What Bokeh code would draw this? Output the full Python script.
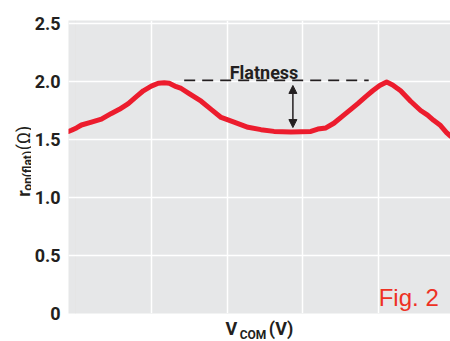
import math
from bokeh.plotting import figure
from bokeh.models import (Label, Arrow, NormalHead, FixedTicker, Range1d, Grid,
                          LinearAxis)
from bokeh.layouts import row
from bokeh.embed import file_html
from bokeh.resources import INLINE
from bokeh.core.properties import value

# ---- data ----
vcom = [-0.092, -0.053, 0.013, 0.079, 0.211, 0.342, 0.474, 0.579, 0.697, 0.803,
        0.895, 1.0, 1.092, 1.171, 1.237, 1.329, 1.395, 1.5, 1.658, 1.789,
        1.921, 2.092, 2.276, 2.447, 2.618, 2.842, 3.105, 3.197, 3.303, 3.408,
        3.539, 3.632, 3.724, 3.829, 3.921, 4.013, 4.105, 4.184, 4.289, 4.421,
        4.553, 4.645, 4.724, 4.816, 4.895, 4.947]
ron_flat = [1.57, 1.58, 1.60, 1.625, 1.65, 1.675, 1.725, 1.76, 1.81, 1.87,
            1.92, 1.96, 1.985, 1.99, 1.985, 1.955, 1.94, 1.895, 1.83, 1.76,
            1.69, 1.65, 1.605, 1.585, 1.57, 1.565, 1.57, 1.59, 1.60, 1.64,
            1.71, 1.76, 1.81, 1.87, 1.92, 1.965, 1.995, 1.97, 1.92, 1.83,
            1.75, 1.71, 1.665, 1.62, 1.56, 1.53]
y_ticks = [0, 0.5, 1.0, 1.5, 2.0, 2.5]
y_tick_labels = ["0", "0.5", "1.0", "1.5", "2.0", "2.5"]
x_grid = [1, 2, 3, 4]
x_title = "V" + "\u00a0" * 7 + "(V)"
x_title_sub = "COM"
x_title_sub_pos = 2.342
flat_line_x = [1.434, 3.868]
flat_line_y = 2.01
arrow_x = 2.868
arrow_y = [1.966, 1.603]

FONT = "Roboto"
DARK = "#231f20"
RED = "#ec1c2d"

# ---------------- main plot ----------------
p = figure(width=419, height=341, output_backend="svg", toolbar_location=None,
           x_range=Range1d(-0.092, 4.947), y_range=Range1d(0, 2.526),
           x_axis_location=None,
           min_border_left=36, min_border_right=0, min_border_top=20,
           min_border_bottom=28)
p.outline_line_color = None
p.background_fill_color = "#e6e7e8"
p.border_fill_color = "white"

p.add_layout(Grid(dimension=0, ticker=FixedTicker(ticks=x_grid),
                  grid_line_color="white", grid_line_width=1.5))
p.ygrid.ticker = FixedTicker(ticks=y_ticks)
p.ygrid.grid_line_color = "white"
p.ygrid.grid_line_width = 1.5

ya = p.yaxis[0]
ya.ticker = FixedTicker(ticks=y_ticks)
ya.major_label_overrides = {t: l for t, l in zip(y_ticks, y_tick_labels)}
ya.axis_line_color = None
ya.major_tick_line_color = None
ya.minor_tick_line_color = None
ya.major_tick_out = 0
ya.major_tick_in = 0
ya.minor_tick_out = 0
ya.minor_tick_in = 0
ya.major_label_standoff = 8
ya.major_label_text_font = FONT
ya.major_label_text_font_style = "bold"
ya.major_label_text_font_size = "18px"
ya.major_label_text_color = DARK

# x axis title "V_COM (V)": subscript as a tick label, main text as axis label
xa = LinearAxis(ticker=FixedTicker(ticks=[x_title_sub_pos]),
                major_label_overrides={x_title_sub_pos: x_title_sub},
                axis_line_color=None, major_tick_line_color=None,
                minor_tick_line_color=None, major_tick_out=0, major_tick_in=0,
                minor_tick_out=0, minor_tick_in=0, major_label_standoff=14,
                major_label_text_font=FONT, major_label_text_font_style="bold",
                major_label_text_font_size="12px", major_label_text_color=DARK,
                axis_label=x_title, axis_label_text_font=FONT,
                axis_label_text_font_style="bold",
                axis_label_text_font_size="18px",
                axis_label_text_color=DARK, axis_label_standoff=-27)
p.add_layout(xa, "below")

p.line(vcom, ron_flat, line_color=RED, line_width=5, line_join="round",
       line_cap="round")

p.line(flat_line_x, [flat_line_y, flat_line_y], line_color=DARK, line_width=1.6,
       line_dash="11 7")
p.add_layout(Arrow(x_start=arrow_x, y_start=arrow_y[0], x_end=arrow_x,
                   y_end=arrow_y[1], line_color=DARK, line_width=1.5,
                   start=NormalHead(size=8, fill_color=DARK, line_color=DARK),
                   end=NormalHead(size=8, fill_color=DARK, line_color=DARK)))

p.add_layout(Label(x=2.487, y=2.075, text="Flatness", text_font=FONT,
                   text_font_size="18px", text_font_style="bold",
                   text_color=DARK, text_align="center",
                   text_baseline="alphabetic"))
p.add_layout(Label(x=4.0, y=0.138, text="Fig. 2", text_font="Liberation Sans",
                   text_font_size="24px", text_color="#ee3124",
                   text_align="left", text_baseline="alphabetic"))

# ---------------- y axis title: r_on(flat) (Ω) ----------------
left = figure(width=31, height=341, output_backend="svg", toolbar_location=None,
              x_range=Range1d(0, 31), y_range=Range1d(341, 0),
              x_axis_location=None, y_axis_location=None, min_border=0)
left.grid.visible = False
left.outline_line_color = None
left.background_fill_color = "white"
left.border_fill_color = "white"


def txt(f, x, y, t, size, bold=True, angle=0):
    f.text(x=[x], y=[y], text=[t], text_font=value(FONT),
           text_font_size=f"{size}px",
           text_font_style="bold" if bold else "normal",
           text_color=DARK, angle=angle, text_align="left",
           text_baseline="alphabetic")


txt(left, 23, 205, "r", 18, angle=math.pi / 2)
txt(left, 27.5, 198, "on(flat)", 12, angle=math.pi / 2)
txt(left, 23, 151, "(Ω)", 18, bold=False, angle=math.pi / 2)

layout = row(left, p)

open("out.html", "w").write(file_html(layout, INLINE))
